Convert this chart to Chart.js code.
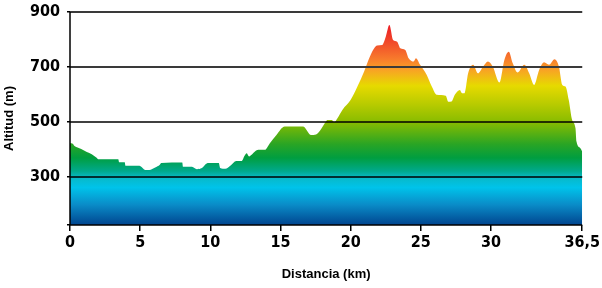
<!DOCTYPE html>
<html><head><meta charset="utf-8">
<script src="https://cdn.jsdelivr.net/npm/chart.js@4/dist/chart.umd.min.js"></script>
<style>html,body{margin:0;padding:0;background:#fff;}#wrap{width:602px;height:288px;}</style>
</head><body><div id="wrap"><canvas id="c" width="602" height="288"></canvas></div>
<script>
const distKm = [0,0.2,0.3,0.45,0.8,1.2,1.55,1.9,2.0,3.44,3.5,3.9,3.95,4.94,5.37,5.65,6.07,6.4,6.5,8.0,8.05,8.69,9.04,9.4,9.82,10.6,10.7,11.07,11.42,11.85,12.24,12.43,12.59,12.76,12.94,13.18,13.42,13.89,14.24,14.71,15.3,16.6,17.18,17.53,18.24,18.33,18.64,18.83,19.07,19.42,19.99,20.48,20.95,21.42,21.89,22.25,22.5,22.76,23.02,23.31,23.54,23.89,24.13,24.48,24.65,24.95,25.42,25.78,26.13,26.77,26.96,27.19,27.42,27.78,27.94,28.11,28.37,28.72,29.07,29.43,29.78,30.13,30.6,30.95,31.26,31.55,31.9,32.37,32.72,33.07,33.43,33.78,34.13,34.53,34.84,35.08,35.31,35.54,35.78,36.02,36.09,36.37,36.5];
const altitud = [423,421,414,409,402,391,383,370,365,365,354,354,341,341,326,326,335,345,351,353,338,338,329,333,351,351,333,330,341,359,359,377,387,375,381,393,399,399,423,453,484,484,453,455,502,508,508,500,515,545,580,629,683,744,778,780,810,853,798,792,768,762,732,720,732,708,671,629,599,596,574,575,599,617,605,605,677,708,677,701,720,701,644,726,756,714,680,708,677,635,689,717,708,728,701,635,629,580,508,478,429,405,393];
const xTickValues = [0,5,10,15,20,25,30,36.5];
const yTickValues = [300,500,700,900];
const yMin = 126, yMax = 900, xMin = 0, xMax = 36.5;

const gradStops = [[126,'#00458f'],[200,'#0a8cc8'],[262,'#00c3ea'],[298,'#08b9c8'],[322,'#00a98c'],[370,'#009e40'],[420,'#2aa524'],[500,'#88bc00'],[570,'#bccc00'],[632,'#e6da00'],[688,'#f8a424'],[730,'#f77a2c'],[790,'#f14a2a'],[853,'#ec1c24']];

const tickFont = {family:"'Liberation Sans Narrow','DejaVu Sans Condensed',sans-serif", size:16, weight:'bold'};
const titleFont = {family:"'Liberation Sans',Arial,sans-serif", size:13, weight:'bold'};

function fillGradient(context){
  const chart = context.chart;
  const area = chart.chartArea;
  if(!area) return '#0a8';
  const y = chart.scales.y;
  const y0 = y.getPixelForValue(yMin), y1 = y.getPixelForValue(yMax);
  const g = chart.ctx.createLinearGradient(0, y0, 0, y1);
  gradStops.forEach(([v,c]) => {
    g.addColorStop(Math.min(1,Math.max(0,(v-yMin)/(yMax-yMin))), c);
  });
  return g;
}

const overlay = {
  id:'overlay',
  afterDatasetsDraw(chart){
    const {ctx, chartArea, scales} = chart;
    ctx.save();
    yTickValues.forEach(v => {
      const py = scales.y.getPixelForValue(v);
      ctx.beginPath();
      ctx.strokeStyle = v >= 700 ? '#3a3a3a' : '#000';
      ctx.lineWidth = v >= 700 ? 2 : 1.5;
      ctx.moveTo(chartArea.left, py);
      ctx.lineTo(chartArea.right, py);
      ctx.stroke();
    });
    ctx.beginPath();
    ctx.strokeStyle = '#000';
    ctx.lineWidth = 1.5;
    ctx.moveTo(chartArea.left, chartArea.top);
    ctx.lineTo(chartArea.left, chartArea.bottom);
    ctx.lineTo(chartArea.right, chartArea.bottom);
    ctx.stroke();
    ctx.restore();
  }
};

new Chart(document.getElementById('c'), {
  type:'line',
  data:{datasets:[{
    data: distKm.map((d,i)=>({x:d, y:altitud[i]})),
    fill:'start',
    backgroundColor: fillGradient,
    borderWidth:0,
    borderColor:'rgba(0,0,0,0)',
    pointRadius:0,
    cubicInterpolationMode:'monotone'
  }]},
  options:{
    responsive:false,
    animation:false,
    devicePixelRatio:1,
    layout:{padding:{left:0,right:15,top:12,bottom:0}},
    plugins:{legend:{display:false}, tooltip:{enabled:false}},
    scales:{
      x:{
        type:'linear', min:xMin, max:xMax,
        afterBuildTicks: s => { s.ticks = xTickValues.map(v=>({value:v})); },
        afterFit: s => { s.height = 63; },
        ticks:{autoSkip:false, maxRotation:0, color:'#000', font:tickFont, padding:2,
          callback: v => String(v).replace('.',',')},
        grid:{drawOnChartArea:false, drawTicks:true, tickLength:6, color:'#000', lineWidth:1.5},
        border:{display:false},
        title:{display:true, text:'Distancia (km)', color:'#000', font:titleFont, padding:{top:0,bottom:6}}
      },
      y:{
        type:'linear', min:yMin, max:yMax,
        afterBuildTicks: s => { s.ticks = [yMin, ...yTickValues].map(v=>({value:v})); },
        afterFit: s => { s.width = 70; s.paddingTop = 0; s.paddingBottom = 0; },
        ticks:{color:'#000', font:tickFont, padding:7,
          callback: v => yTickValues.includes(v) ? String(v) : ''},
        grid:{drawOnChartArea:false, drawTicks:true, tickLength:3, color:'#000', lineWidth:1.5},
        border:{display:false},
        title:{display:true, text:'Altitud (m)', color:'#000', font:titleFont, padding:{top:2,bottom:0}}
      }
    }
  },
  plugins:[overlay]
});
</script>
</body></html>
